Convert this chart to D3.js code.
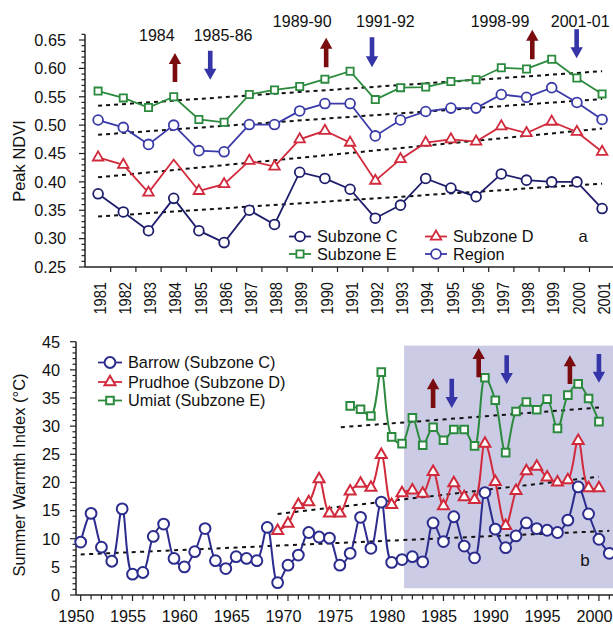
<!DOCTYPE html>
<html><head><meta charset="utf-8">
<script src="https://cdn.jsdelivr.net/npm/d3@7"></script>
<style>
body{margin:0;background:#fff;}
svg{display:block;font-family:"Liberation Sans",Arial,Helvetica,sans-serif;}
</style>
</head><body>
<svg id="chart" width="613" height="627"></svg>
<script>
// ---------- DATA (top panel: peak NDVI) ----------
const ndviYears = [1981,1982,1983,1984,1985,1986,1987,1988,1989,1990,1991,1992,1993,1994,1995,1996,1997,1998,1999,2000,2001];
const subzoneC = [0.379,0.347,0.314,0.371,0.314,0.293,0.350,0.325,0.417,0.406,0.387,0.336,0.359,0.406,0.389,0.374,0.414,0.403,0.400,0.400,0.353];
const subzoneD = [0.443,0.430,0.381,0.439,0.384,0.396,0.437,0.427,0.475,0.490,0.469,0.402,0.440,0.469,0.475,0.471,0.498,0.486,0.506,0.488,0.453];
const subzoneE = [0.560,0.548,0.531,0.550,0.510,0.505,0.554,0.562,0.568,0.581,0.595,0.545,0.566,0.567,0.577,0.580,0.601,0.599,0.616,0.583,0.555];
const region   = [0.509,0.496,0.466,0.500,0.455,0.453,0.501,0.501,0.525,0.538,0.538,0.481,0.509,0.524,0.530,0.530,0.554,0.549,0.566,0.540,0.510];
const subzoneDNoMarker = [1984];
// trend lines: value at first and last year
const trendC = [0.339, 0.397];
const trendD = [0.408, 0.494];
const trendE = [0.534, 0.595];
const trendRegion = [0.483, 0.546];
const ndviTicks = [0.25,0.30,0.35,0.40,0.45,0.50,0.55,0.60,0.65];

// annotations (top): label, label position (year, NDVI), arrow year, arrow top & bottom (NDVI), direction
const topNotes = [
  {label:"1984",    lx:1983.33, ly:0.648, ax:1984.05, a0:0.627, a1:0.576, dir:"up"},
  {label:"1985-86", lx:1985.96, ly:0.648, ax:1985.45, a0:0.631, a1:0.580, dir:"down"},
  {label:"1989-90", lx:1989.10, ly:0.673, ax:1990.05, a0:0.654, a1:0.602, dir:"up"},
  {label:"1991-92", lx:1992.40, ly:0.673, ax:1991.87, a0:0.655, a1:0.602, dir:"down"},
  {label:"1998-99", lx:1996.95, ly:0.673, ax:1998.23, a0:0.668, a1:0.616, dir:"up"},
  {label:"2001-01", lx:2000.13, ly:0.673, ax:1999.99, a0:0.669, a1:0.618, dir:"down"}
];

// ---------- DATA (bottom panel: Summer Warmth Index) ----------
const barrowYears = [1950,1951,1952,1953,1954,1955,1956,1957,1958,1959,1960,1961,1962,1963,1964,1965,1966,1967,1968,1969,1970,1971,1972,1973,1974,1975,1976,1977,1978,1979,1980,1981,1982,1983,1984,1985,1986,1987,1988,1989,1990,1991,1992,1993,1994,1995,1996,1997,1998,1999,2000,2001];
const barrow = [9.4,14.5,8.5,6.0,15.3,3.7,4.0,10.4,12.6,6.5,5.0,7.7,11.8,6.1,4.7,6.8,6.5,6.1,12.0,2.2,5.3,7.1,11.1,10.3,10.1,5.3,7.4,13.8,8.3,16.5,5.8,6.3,6.8,5.9,12.8,9.5,13.9,8.7,6.6,18.2,11.7,8.4,10.5,12.8,11.8,11.5,11.1,13.3,19.2,14.4,9.9,7.4];
const prudhoeYears = [1969,1970,1971,1972,1973,1974,1975,1976,1977,1978,1979,1980,1981,1982,1983,1984,1985,1986,1987,1988,1989,1990,1991,1992,1993,1994,1995,1996,1997,1998,1999,2000];
const prudhoe = [11.4,12.7,16.0,16.5,20.6,14.5,14.5,18.4,19.8,19.1,24.9,16.0,18.1,18.6,18.0,21.9,15.8,19.9,17.4,16.9,26.9,20.1,12.3,18.5,22.0,22.8,20.9,20.0,20.4,27.4,19.0,19.0];
const umiatYears = [1976,1977,1978,1979,1980,1981,1982,1983,1984,1985,1986,1987,1988,1989,1990,1991,1992,1993,1994,1995,1996,1997,1998,1999,2000];
const umiat = [33.6,33.0,31.8,39.6,28.1,26.9,31.5,26.6,29.8,27.5,29.4,29.4,26.5,38.6,34.6,25.3,32.6,34.3,32.9,34.8,29.6,35.5,37.5,34.9,30.8];
// trend lines: [year0, value0, year1, value1]
const trendBarrow = [1950, 7.2, 2001, 11.4];
const trendPrudhoe = [1969, 14.4, 2000, 21.0];
const trendUmiat = [1975.1, 29.8, 2000, 33.3];
const swiTicks = [0,5,10,15,20,25,30,35,40,45];
const yearTicks = [1950,1955,1960,1965,1970,1975,1980,1985,1990,1995,2000];
// shaded period [year0, year1, value0, value1]
const shadePeriod = [1981.2, 2003, 1.2, 44.3];
const botNotes = [
  {ax:1984.0, a0:38.5, a1:33.2, dir:"up"},
  {ax:1985.8, a0:38.4, a1:33.2, dir:"down"},
  {ax:1988.4, a0:43.9, a1:38.7, dir:"up"},
  {ax:1991.1, a0:42.6, a1:37.5, dir:"down"},
  {ax:1997.2, a0:42.6, a1:37.5, dir:"up"},
  {ax:2000.0, a0:42.8, a1:37.7, dir:"down"}
];

// ---------- STYLE ----------
const colC = "#1e1e6c", colD = "#d12a3c", colE = "#2b8a3e", colR = "#3a3aa8";
const colBarrow = "#2c2c8e";
const arrowRed = "#7a0c10", arrowBlue = "#3535a8";
const axisCol = "#222";
const svg = d3.select("#chart");

function arrowPath(x, yTop, yBot, dir){
  const sw = 2.3, hw = 6.2, hl = 11;
  if(dir === "up"){
    return `M${x},${yTop} L${x+hw},${yTop+hl} L${x+sw},${yTop+hl} L${x+sw},${yBot} L${x-sw},${yBot} L${x-sw},${yTop+hl} L${x-hw},${yTop+hl} Z`;
  } else {
    return `M${x},${yBot} L${x+hw},${yBot-hl} L${x+sw},${yBot-hl} L${x+sw},${yTop} L${x-sw},${yTop} L${x-sw},${yBot-hl} L${x-hw},${yBot-hl} Z`;
  }
}

// =============== TOP PANEL ===============
const xTop = d3.scaleBand().domain(ndviYears).range([85.5, 85.5 + 21*25.2]).padding(0);
const cx = yr => xTop(yr) + xTop.bandwidth()/2;
const cxf = yr => xTop(1981) + xTop.bandwidth()/2 + (yr-1981)*xTop.step();
const yTop = d3.scaleLinear().domain([0.25, 0.65]).range([267, 40]);

const gTop = svg.append("g");
// axes
gTop.append("line").attr("x1",85).attr("x2",85).attr("y1",yTop(0.25)).attr("y2",yTop(0.66)).attr("stroke",axisCol).attr("stroke-width",1.5);
gTop.append("line").attr("x1",85).attr("x2",613).attr("y1",267).attr("y2",267).attr("stroke",axisCol).attr("stroke-width",1.5);
d3.range(25, 67).forEach(k => {
  const v = k/100, major = (k % 5 === 0);
  gTop.append("line").attr("x1",85).attr("x2",85-(major?6:3.5)).attr("y1",yTop(v)).attr("y2",yTop(v)).attr("stroke",axisCol).attr("stroke-width",1.2);
});
ndviTicks.forEach(v => {
  gTop.append("text").attr("x",66).attr("y",yTop(v)).attr("dy","0.36em").attr("text-anchor","end")
    .attr("font-size",16.3).attr("fill","#111").text(v.toFixed(2));
});
// x ticks at band boundaries
ndviYears.forEach(yr => {
  const bx = xTop(yr);
  if (bx > 86) gTop.append("line").attr("x1",bx).attr("x2",bx).attr("y1",267).attr("y2",272).attr("stroke",axisCol).attr("stroke-width",1.2);
  gTop.append("text").attr("transform",`translate(${cx(yr)+2},282) rotate(-90)`)
    .attr("dy","0.36em").attr("text-anchor","end").attr("font-size",16)
    .attr("textLength",32.5).attr("lengthAdjust","spacingAndGlyphs").attr("fill","#111").text(yr);
});
const lastBound = xTop(2001) + xTop.bandwidth();
if (lastBound < 613) gTop.append("line").attr("x1",lastBound).attr("x2",lastBound).attr("y1",267).attr("y2",272).attr("stroke",axisCol);

gTop.append("text").attr("transform","translate(25,161) rotate(-90)").attr("text-anchor","middle")
  .attr("font-size",16.5).attr("fill","#111").text("Peak NDVI");

// trend lines
[trendE, trendRegion, trendD, trendC].forEach(t => {
  gTop.append("line").attr("x1",cx(1981)).attr("x2",cx(2001)).attr("y1",yTop(t[0])).attr("y2",yTop(t[1]))
    .attr("stroke","#111").attr("stroke-width",2).attr("stroke-dasharray","4,4");
});

const topSeries = [
  {vals:subzoneE, col:colE, mark:"square"},
  {vals:region, col:colR, mark:"circle"},
  {vals:subzoneD, col:colD, mark:"triangle", skip:subzoneDNoMarker},
  {vals:subzoneC, col:colC, mark:"circle"}
];
const lineTop = d3.line().x(d=>cx(d.year)).y(d=>yTop(d.v));
function drawMarker(g, mark, x, y, col, sz){
  if(mark === "circle"){
    g.append("circle").attr("cx",x).attr("cy",y).attr("r",sz.r).attr("fill","#fff").attr("stroke",col).attr("stroke-width",sz.sw);
  } else if(mark === "square"){
    g.append("path").attr("d",d3.symbol(d3.symbolSquare, sz.sq*sz.sq)()).attr("transform",`translate(${x},${y})`)
      .attr("fill","#fff").attr("stroke",col).attr("stroke-width",sz.sw);
  } else {
    g.append("path").attr("d",d3.symbol(d3.symbolTriangle, Math.sqrt(3)/4*sz.tri*sz.tri)()).attr("transform",`translate(${x},${y})`)
      .attr("fill","#fff").attr("stroke",col).attr("stroke-width",sz.sw);
  }
}
const topSz = {r:4.9, sq:7.2, tri:10.5, sw:1.8};
topSeries.forEach(s => {
  const data = ndviYears.map((yr,i)=>({year:yr, v:s.vals[i]}));
  gTop.append("path").datum(data).attr("d",lineTop).attr("fill","none").attr("stroke",s.col).attr("stroke-width",1.8);
  data.forEach(d => {
    if (s.skip && s.skip.includes(d.year)) return;
    drawMarker(gTop, s.mark, cx(d.year), yTop(d.v), s.col, topSz);
  });
});

// annotations top
topNotes.forEach(n => {
  gTop.append("text").attr("x",cxf(n.lx)).attr("y",yTop(n.ly)).attr("text-anchor","middle").attr("font-size",16).attr("fill","#111").text(n.label);
  gTop.append("path").attr("d",arrowPath(cxf(n.ax), yTop(n.a0), yTop(n.a1), n.dir)).attr("fill", n.dir==="up"?arrowRed:arrowBlue);
});

// legend top
function legendItem(g, x0, y, col, mark, label, sz, len){
  g.append("line").attr("x1",x0).attr("x2",x0+len).attr("y1",y).attr("y2",y).attr("stroke",col).attr("stroke-width",1.8);
  drawMarker(g, mark, x0+len/2, y, col, sz);
  g.append("text").attr("x",x0+len+6).attr("y",y).attr("dy","0.36em").attr("font-size",16.3).attr("fill","#111").text(label);
}
legendItem(gTop, 289, 236.5, colC, "circle", "Subzone C", topSz, 22);
legendItem(gTop, 289, 254, colE, "square", "Subzone E", topSz, 22);
legendItem(gTop, 425, 236.5, colD, "triangle", "Subzone D", topSz, 22);
legendItem(gTop, 425, 254, colR, "circle", "Region", topSz, 22);
gTop.append("text").attr("x",583).attr("y",236.5).attr("dy","0.36em").attr("text-anchor","middle").attr("font-size",16.5).attr("fill","#111").text("a");

// =============== BOTTOM PANEL ===============
const xBot = d3.scaleLinear().domain([1950, 2001]).range([80.7, 609.3]);
const yBot = d3.scaleLinear().domain([0, 45]).range([595, 341.7]);
const gBot = svg.append("g");

// shading
gBot.append("rect").attr("x",xBot(shadePeriod[0])).attr("y",yBot(shadePeriod[3]))
  .attr("width",xBot(shadePeriod[1])-xBot(shadePeriod[0])).attr("height",yBot(shadePeriod[2])-yBot(shadePeriod[3]))
  .attr("fill","#cbcbe5");

// axes
gBot.append("line").attr("x1",76).attr("x2",76).attr("y1",595).attr("y2",yBot(45)).attr("stroke",axisCol).attr("stroke-width",1.5);
gBot.append("line").attr("x1",76).attr("x2",613).attr("y1",595).attr("y2",595).attr("stroke",axisCol).attr("stroke-width",1.5);
d3.range(0, 46).forEach(v => {
  const major = v % 5 === 0;
  gBot.append("line").attr("x1",76).attr("x2",76-(major?6:3.5)).attr("y1",yBot(v)).attr("y2",yBot(v)).attr("stroke",axisCol).attr("stroke-width",1.2);
});
swiTicks.forEach(v => {
  gBot.append("text").attr("x",60).attr("y",yBot(v)).attr("dy","0.36em").attr("text-anchor","end").attr("font-size",16.3).attr("fill","#111").text(v);
});
d3.range(1950, 2002).forEach(yr => {
  const major = yr % 5 === 0;
  gBot.append("line").attr("x1",xBot(yr)).attr("x2",xBot(yr)).attr("y1",595).attr("y2",595+(major?6:4.5)).attr("stroke",axisCol).attr("stroke-width",1.2);
});
yearTicks.forEach(yr => {
  gBot.append("text").attr("x",xBot(yr)-4.5).attr("y",622).attr("text-anchor","middle").attr("font-size",16.2).attr("fill","#111").text(yr);
});
gBot.append("text").attr("transform","translate(25,475) rotate(-90)").attr("text-anchor","middle")
  .attr("font-size",16.5).attr("fill","#111").text("Summer Warmth Index (\u00B0C)");

// trends
[trendUmiat, trendPrudhoe, trendBarrow].forEach(t => {
  gBot.append("line").attr("x1",xBot(t[0])).attr("x2",xBot(t[2])).attr("y1",yBot(t[1])).attr("y2",yBot(t[3]))
    .attr("stroke","#111").attr("stroke-width",2).attr("stroke-dasharray","4,4.5");
});

const botSz = {r:5.4, sq:7.6, tri:11, sw:2};
const lineBot = d3.line().x(d=>xBot(d.year)).y(d=>yBot(d.v)).curve(d3.curveCatmullRom.alpha(0.5));
const botSeries = [
  {years:umiatYears, vals:umiat, col:colE, mark:"square"},
  {years:prudhoeYears, vals:prudhoe, col:colD, mark:"triangle"},
  {years:barrowYears, vals:barrow, col:colBarrow, mark:"circle"}
];
botSeries.forEach(s => {
  const data = s.years.map((yr,i)=>({year:yr, v:s.vals[i]}));
  gBot.append("path").datum(data).attr("d",lineBot).attr("fill","none").attr("stroke",s.col).attr("stroke-width",2);
});
botSeries.forEach(s => {
  s.years.forEach((yr,i) => drawMarker(gBot, s.mark, xBot(yr), yBot(s.vals[i]), s.col, botSz));
});

botNotes.forEach(n => {
  gBot.append("path").attr("d",arrowPath(xBot(n.ax), yBot(n.a0), yBot(n.a1), n.dir)).attr("fill", n.dir==="up"?arrowRed:arrowBlue);
});

// legend bottom
legendItem(gBot, 98, 362.5, colBarrow, "circle", "Barrow (Subzone C)", botSz, 24);
legendItem(gBot, 98, 382, colD, "triangle", "Prudhoe (Subzone D)", botSz, 24);
legendItem(gBot, 98, 400.5, colE, "square", "Umiat (Subzone E)", botSz, 24);
gBot.append("text").attr("x",585).attr("y",560).attr("dy","0.36em").attr("text-anchor","middle").attr("font-size",17).attr("fill","#111").text("b");
</script>
</body></html>
